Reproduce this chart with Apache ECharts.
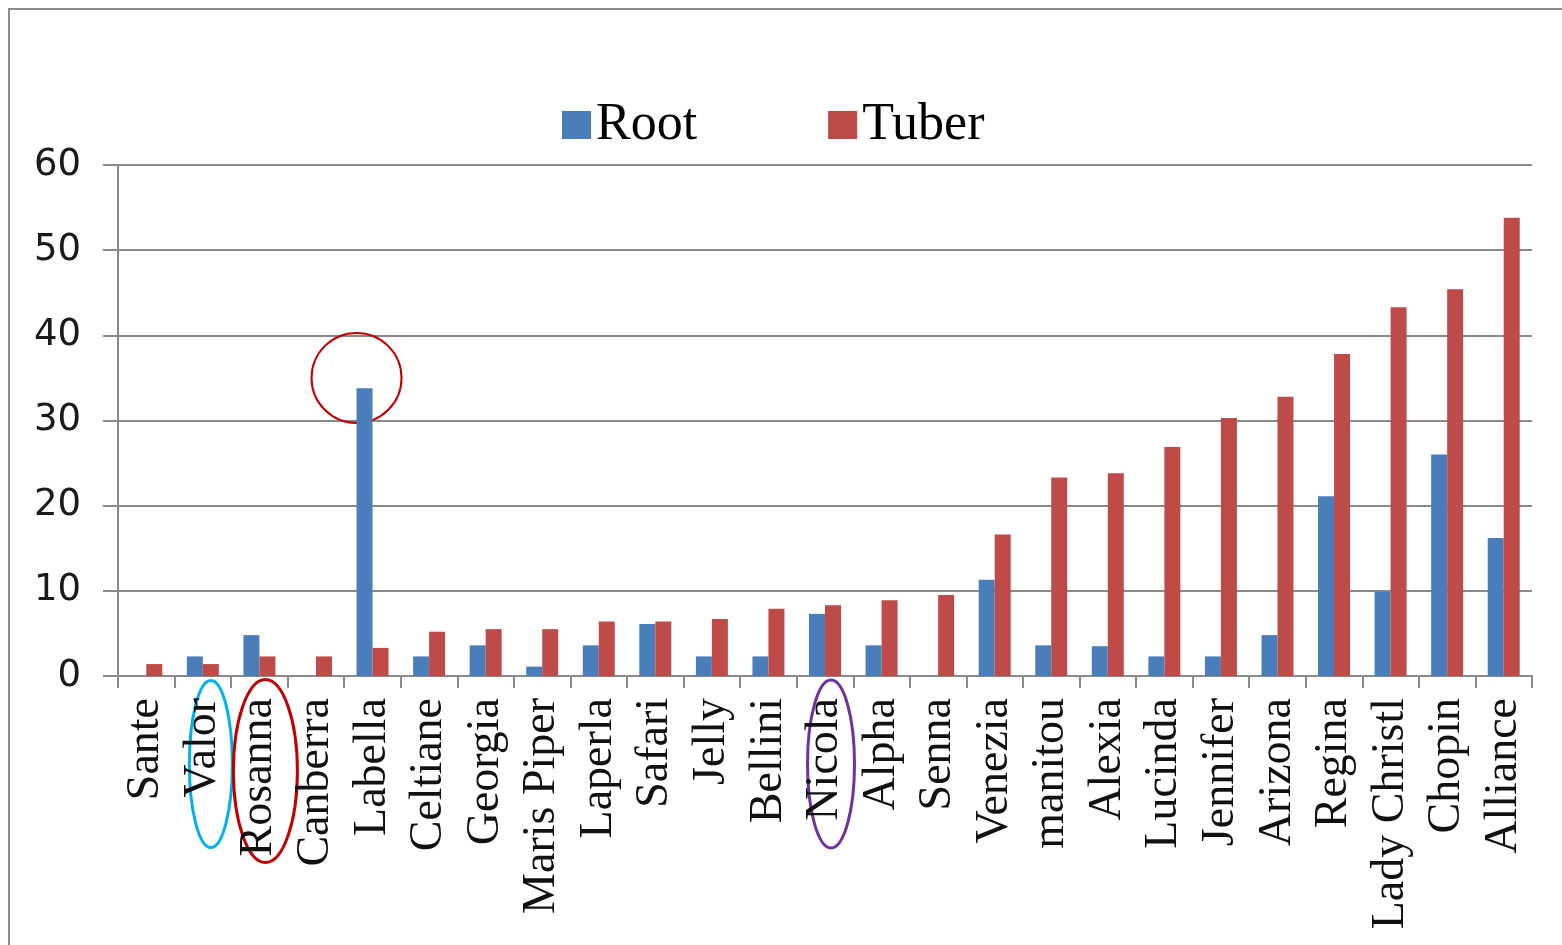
<!DOCTYPE html>
<html>
<head>
<meta charset="utf-8">
<title>Root and tuber by variety</title>
<script src="https://cdn.jsdelivr.net/npm/echarts@6/dist/echarts.min.js"></script>
<style>
  html, body { margin: 0; padding: 0; background: #ffffff; }
  #chart { width: 1562px; height: 945px; }
</style>
</head>
<body>
<div id="chart"></div>
<script>
// Potato varieties, ordered by tuber value
const categories = ['Sante', 'Valor', 'Rosanna', 'Canberra', 'Labella', 'Celtiane', 'Georgia',
  'Maris Piper', 'Laperla', 'Safari', 'Jelly', 'Bellini', 'Nicola', 'Alpha', 'Senna', 'Venezia',
  'manitou', 'Alexia', 'Lucinda', 'Jennifer', 'Arizona', 'Regina', 'Lady Christl', 'Chopin', 'Alliance'];

const rootValues = [0, 2.3, 4.8, 0, 33.8, 2.3, 3.6, 1.1, 3.6, 6.1, 2.3, 2.3, 7.3, 3.6, 0, 11.3,
  3.6, 3.5, 2.3, 2.3, 4.8, 21.1, 9.9, 26.0, 16.2];

const tuberValues = [1.4, 1.4, 2.3, 2.3, 3.3, 5.2, 5.5, 5.5, 6.4, 6.4, 6.7, 7.9, 8.3, 8.9, 9.5, 16.6,
  23.3, 23.8, 26.9, 30.3, 32.8, 37.8, 43.3, 45.4, 53.8];

const yTicks = { min: 0, max: 60, interval: 10 };

const chart = echarts.init(document.getElementById('chart'), null, { renderer: 'canvas' });

const axisGray = '#8a8a8a';
const serif = '"Liberation Serif", "Times New Roman", serif';

chart.setOption({
  backgroundColor: '#ffffff',
  animation: false,
  legend: {
    data: ['Root', 'Tuber'],
    left: 562,
    top: 99,
    padding: 0,
    itemWidth: 29,
    itemHeight: 28,
    itemGap: 131,
    textStyle: { fontFamily: serif, fontSize: 52, color: '#000000' },
    icon: 'rect'
  },
  grid: { left: 118, right: 30, top: 165, bottom: 269, containLabel: false },
  xAxis: {
    type: 'category',
    data: categories,
    boundaryGap: true,
    axisLine: { show: true, lineStyle: { color: axisGray, width: 2 } },
    axisTick: { show: true, alignWithLabel: false, length: 12, lineStyle: { color: axisGray, width: 2 } },
    axisLabel: {
      rotate: 90,
      interval: 0,
      margin: 22,
      fontFamily: serif,
      fontSize: 46,
      color: '#111111'
    }
  },
  yAxis: {
    type: 'value',
    min: yTicks.min,
    max: yTicks.max,
    interval: yTicks.interval,
    axisLine: { show: true, lineStyle: { color: axisGray, width: 2 } },
    axisTick: { show: true, inside: false, length: 15, lineStyle: { color: axisGray, width: 2 } },
    splitLine: { show: true, lineStyle: { color: axisGray, width: 2 } },
    axisLabel: {
      margin: 37,
      fontFamily: '"DejaVu Sans", Verdana, sans-serif',
      fontSize: 37,
      color: '#1a1a1a'
    }
  },
  series: [
    {
      name: 'Root',
      type: 'bar',
      data: rootValues,
      barWidth: 16,
      barGap: '0%',
      itemStyle: { color: '#4a7ebb' }
    },
    {
      name: 'Tuber',
      type: 'bar',
      data: tuberValues,
      barWidth: 16,
      barGap: '0%',
      itemStyle: { color: '#be4b48' }
    }
  ]
});

// Highlight rings, placed from the axes' own pixel mapping
function px(cat, val) {
  return chart.convertToPixel({ xAxisIndex: 0, yAxisIndex: 0 }, [cat, val]);
}
const labellaTop = px('Labella', 35);
const valorBase = px('Valor', 0);
const rosannaBase = px('Rosanna', 0);
const nicolaBase = px('Nicola', 0);

chart.setOption({
  graphic: [
    {
      type: 'rect',
      silent: true,
      shape: { x: 9, y: 9, width: 1700, height: 1100 },
      style: { fill: 'none', stroke: '#8c8c8c', lineWidth: 2 }
    },
    {
      type: 'circle',
      silent: true,
      shape: { cx: labellaTop[0] - 16, cy: labellaTop[1], r: 45 },
      style: { fill: 'none', stroke: '#c00000', lineWidth: 2 }
    },
    {
      type: 'ellipse',
      silent: true,
      shape: { cx: valorBase[0] + 8, cy: valorBase[1] + 88, rx: 21.5, ry: 83.5 },
      style: { fill: 'none', stroke: '#00b0f0', lineWidth: 3 }
    },
    {
      type: 'ellipse',
      silent: true,
      shape: { cx: rosannaBase[0] + 6, cy: rosannaBase[1] + 95, rx: 32, ry: 91.5 },
      style: { fill: 'none', stroke: '#c00000', lineWidth: 3 }
    },
    {
      type: 'ellipse',
      silent: true,
      shape: { cx: nicolaBase[0] + 6, cy: nicolaBase[1] + 88, rx: 23.5, ry: 84 },
      style: { fill: 'none', stroke: '#7030a0', lineWidth: 3 }
    }
  ]
});
</script>
</body>
</html>
